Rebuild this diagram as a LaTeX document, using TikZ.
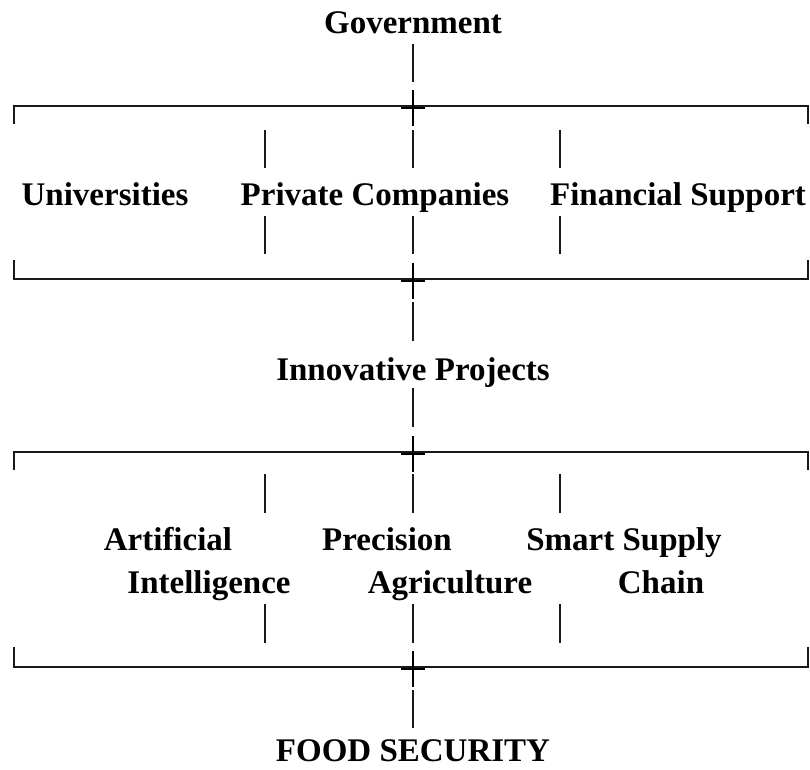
\documentclass[tikz,border=0pt]{standalone}
\usepackage{fontspec}
\setmainfont{Liberation Serif}
\usetikzlibrary{positioning}

\begin{document}
\begin{tikzpicture}[x=1pt,y=-1pt,
  lbl/.style={font=\fontsize{33}{36}\selectfont\bfseries, inner sep=0pt, anchor=base},
  bar/.style={line width=1.4pt, black!90},
  cross/.style={line width=2.4pt, black}]
  \def\mx{413}
  \def\xl{14}
  \def\xr{808}

  % Fixed bounding box
  \path[use as bounding box] (0,0) rectangle (810,769);

  % Labels
  \node[lbl] (gov) at (\mx,33) {Government};
  \node[lbl] (uni) at (105,205) {Universities};
  \node[lbl] (priv) at (375,205) {Private Companies};
  \node[lbl] (fin) at (678,205) {Financial Support};
  \node[lbl] (proj) at (\mx,380) {Innovative Projects};
  \node[lbl] (ai1) at (168,550) {Artificial};
  \node[lbl] (ai2) at (209,593) {Intelligence};
  \node[lbl] (pa1) at (387,550) {Precision};
  \node[lbl] (pa2) at (450,593) {Agriculture};
  \node[lbl] (sc1) at (624,550) {Smart Supply};
  \node[lbl] (sc2) at (661,593) {Chain};
  \node[lbl] (food) at (\mx,761) {FOOD SECURITY};

  % Brackets with centre crosses
  \foreach \yy/\dd in {106/18, 279/-19, 452/18, 667/-20} {
    \draw[bar] (\xl,\yy+\dd) -- (\xl,\yy) -- (\xr,\yy) -- (\xr,\yy+\dd);
    \draw[cross] (\mx,\yy-16) -- (\mx,\yy+20);
    \draw[cross] (\mx-12,\yy+2) -- (\mx+12,\yy+2);
  }

  % Stems between the blocks
  \foreach \ya/\yb in {44/82, 302/341, 388/427, 690/728}
    \draw[bar] (\mx,\ya) -- (\mx,\yb);

  % Column ticks
  \foreach \cx in {265,\mx,560} {
    \draw[bar] (\cx,130) -- (\cx,168);
    \draw[bar] (\cx,216) -- (\cx,254);
    \draw[bar] (\cx,474) -- (\cx,513);
    \draw[bar] (\cx,604) -- (\cx,643);
  }
\end{tikzpicture}
\end{document}
